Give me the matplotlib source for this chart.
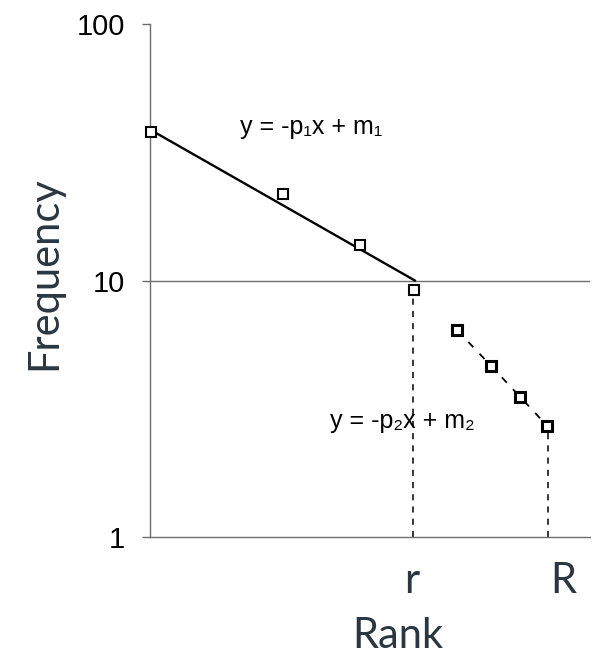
import matplotlib
matplotlib.use("Agg")
import matplotlib.pyplot as plt

# rank positions (arbitrary units) and frequencies
rank = [0.02, 3.02, 4.77, 6.0, 6.98, 7.75, 8.41, 9.02]
freq = [37.9, 21.7, 13.7, 9.15, 6.4, 4.65, 3.52, 2.72]
fit1_x = [0.02, 6.02]          # solid fit over the head of the curve
fit1_y = [38.6, 10.0]
r_pos, R_pos = 5.98, 9.04
ytick_vals = [1, 10, 100]
ytick_labels = ["1", "10", "100"]

fig = plt.figure(figsize=(5.95, 6.54), dpi=100)
ax = fig.add_axes([150 / 595, 117 / 654, 440 / 595, 513 / 654])
ax.set_yscale("log")
ax.set_xlim(0, 10)
ax.set_ylim(1, 100)

grey = "#6e6e6e"
ink = "#2b3740"
ax.axhline(10, color=grey, lw=1.0, zorder=1)

# head: solid fit line
ax.plot(fit1_x, fit1_y, color="black", lw=1.7, zorder=3)
# tail: dashed line through the last points
ax.plot(rank[4:], freq[4:], color="black", lw=1.3, ls=(0, (4, 5)), zorder=3)
# drop lines to the rank axis at r and R
ax.plot([r_pos, r_pos], [1, freq[3]], color="black", lw=1.1,
        ls=(0, (4, 4)), zorder=2)
ax.plot([R_pos, R_pos], [1, freq[-1]], color="black", lw=1.1,
        ls=(0, (4, 4)), zorder=2)

ax.plot(rank[:4], freq[:4], ls="none", marker="s", ms=6.5, mfc="white",
        mec="black", mew=1.5, zorder=4, clip_on=False)
ax.plot(rank[4:], freq[4:], ls="none", marker="s", ms=6.5, mfc="white",
        mec="black", mew=2.2, zorder=4)

eq_font = ["Liberation Sans", "DejaVu Sans"]
ax.text(0.2045, 0.799, "y = -p\u2081x + m\u2081", family=eq_font,
        transform=ax.transAxes, fontsize=18, ha="left", va="center")
ax.text(0.409, 0.226, "y = -p\u2082x + m\u2082", family=eq_font,
        transform=ax.transAxes, fontsize=18, ha="left", va="center")

for s in ("top", "right"):
    ax.spines[s].set_visible(False)
for s in ("left", "bottom"):
    ax.spines[s].set_color(grey)
    ax.spines[s].set_linewidth(1.0)

ax.set_yticks(ytick_vals, ytick_labels, fontfamily="Liberation Sans",
              fontsize=21)
ax.minorticks_off()
ax.tick_params(axis="y", length=6, width=1.0, color=grey, pad=12)
ax.set_xticks([])

# rank markers r and R under the drop lines
for xpos, lab, dx in ((r_pos, "r", -1), (R_pos, "R", 15)):
    ax.annotate(lab, (xpos, 0), xycoords=("data", "axes fraction"),
                xytext=(dx, -56), textcoords="offset pixels",
                ha="center", va="baseline", fontfamily="Lato",
                fontsize=30, color=ink, annotation_clip=False)

ax.set_ylabel("Frequency", fontfamily="Lato", fontsize=30, color=ink)
ax.yaxis.set_label_coords(-0.197, 0.514)
ax.set_xlabel("Rank", fontfamily="Lato", fontsize=30, color=ink)
ax.xaxis.set_label_coords(0.5625, -0.155)

fig.savefig("out.png", dpi=100)
